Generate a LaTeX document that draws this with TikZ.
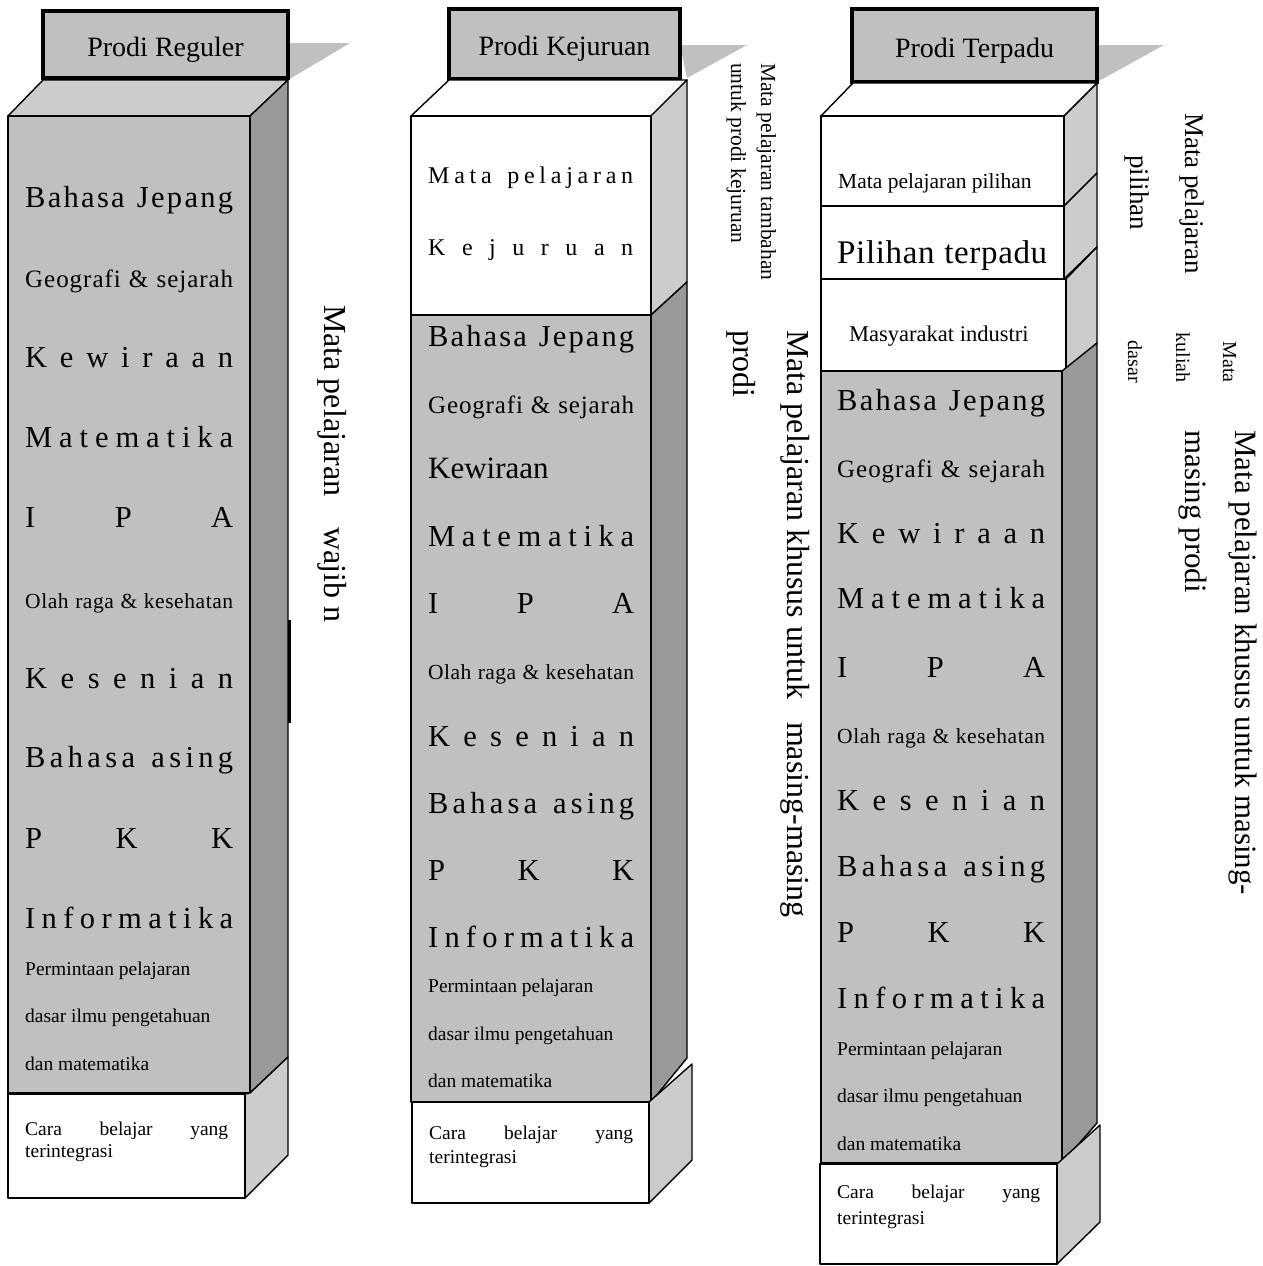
\documentclass[tikz,border=0pt]{standalone}
\usepackage{fontspec}
\setmainfont{Liberation Serif}
\usepackage{tikz}

\definecolor{frontgray}{HTML}{C0C0C0}
\definecolor{sidegray}{HTML}{999999}
\definecolor{lightside}{HTML}{CCCCCC}

\newcommand\fsz[1]{\fontsize{#1}{#1}\selectfont}
% letters spread evenly over a given width
\ExplSyntaxOn
\NewDocumentCommand\distrib{mm}{\hbox~to~#1{\str_map_inline:nn{#2}{##1\hfil}\unskip}}
\ExplSyntaxOff

\begin{document}
\begin{tikzpicture}[x=1pt,y=-1pt,
		face/.style={draw, line width=1.4pt, line join=round},
		titlebox/.style={draw, line width=3.2pt, fill=frontgray, inner sep=0pt, font=\fsz{28}, text height=31pt, text depth=8pt},
		lbl/.style={anchor=base west, inner sep=0pt},
		vlbl/.style={rotate=-90, anchor=base west, inner sep=0pt}]
	\useasboundingbox (0,0) rectangle (1263,1266);

	%%% Prodi Reguler
	\fill[frontgray] (288,43) -- (350,43) -- (288,80) -- cycle;
	\node[titlebox, minimum width=245, minimum height=67] (reg) at (165.5,44.5) {Prodi Reguler};
	\filldraw[face, fill=lightside] (8,116) -- (43,80) -- (288,80) -- (250,116) -- cycle;
	\filldraw[face, fill=sidegray] (250,116) -- (288,80) -- (288,1057) -- (250,1093) -- cycle;
	\filldraw[face, fill=frontgray] (8,116) rectangle (250,1093);
	\filldraw[face, fill=lightside] (245,1094) -- (250,1093) -- (288,1057) -- (288,1155) -- (245,1198) -- cycle;
	\filldraw[face, fill=white] (8,1094) rectangle (245,1198);
	\draw[line width=3pt] (289.5,620) -- (289.5,723);

	\node[lbl] (r1) at (25,207) {\fsz{30.5}\distrib{208pt}{Bahasa Jepang}};
	\node[lbl] (r2) at (25,287) {\fsz{25}\distrib{208pt}{Geografi & sejarah}};
	\node[lbl] (r3) at (25,367) {\fsz{30.5}\distrib{208pt}{Kewiraan}};
	\node[lbl] (r4) at (25,447) {\fsz{30.5}\distrib{208pt}{Matematika}};
	\node[lbl] (r5) at (25,527) {\fsz{30.5}\distrib{208pt}{IPA}};
	\node[lbl] (r6) at (25,608) {\fsz{21.5}\distrib{208pt}{Olah raga & kesehatan}};
	\node[lbl] (r7) at (25,688) {\fsz{30.5}\distrib{208pt}{Kesenian}};
	\node[lbl] (r8) at (25,767) {\fsz{30.5}\distrib{208pt}{Bahasa asing}};
	\node[lbl] (r9) at (25,848) {\fsz{30.5}\distrib{208pt}{PKK}};
	\node[lbl] (r10) at (25,928) {\fsz{30.5}\distrib{208pt}{Informatika}};
	\node[lbl] (r11) at (25,975) {\fsz{19.5}Permintaan pelajaran};
	\node[lbl] (r12) at (25,1022) {\fsz{19.5}dasar ilmu pengetahuan};
	\node[lbl] (r13) at (25,1070) {\fsz{19.5}dan matematika};
	\node[lbl] (r14) at (25,1135) {\fsz{19.5}\hbox to 203pt{Cara\hfil belajar\hfil yang}};
	\node[lbl] (r15) at (25,1157) {\fsz{19.5}terintegrasi};

	\node[vlbl] (wajib) at (324,305) {\fsz{32}Mata pelajaran\hspace{31pt}wajib n};

	%%% Prodi Kejuruan
	\fill[frontgray] (680,45) -- (747,45) -- (687,78) -- cycle;
	\node[titlebox, minimum width=231, minimum height=70] (kej) at (564.5,44) {Prodi Kejuruan};
	\filldraw[face, fill=white] (411,116) -- (449,80) -- (687,80) -- (651,116) -- cycle;
	\filldraw[face, fill=lightside] (651,116) -- (687,80) -- (687,282) -- (651,315) -- cycle;
	\filldraw[face, fill=white] (411,116) rectangle (651,315);
	\filldraw[face, fill=sidegray] (651,315) -- (687,282) -- (687,1058) -- (651,1102) -- cycle;
	\filldraw[face, fill=frontgray] (411,315) rectangle (651,1102);
	\filldraw[face, fill=lightside] (649,1102) -- (692,1064) -- (692,1160) -- (649,1203) -- cycle;
	\filldraw[face, fill=white] (412,1102) rectangle (649,1203);

	\node[lbl] (k1) at (428,183) {\fsz{24}\distrib{205pt}{Mata pelajaran}};
	\node[lbl] (k2) at (428,255) {\fsz{24}\distrib{205pt}{Kejuruan}};
	\node[lbl] (k3) at (428,346) {\fsz{30.5}\distrib{206pt}{Bahasa Jepang}};
	\node[lbl] (k4) at (428,413) {\fsz{25}\distrib{206pt}{Geografi & sejarah}};
	\node[lbl] (k5) at (428,478) {\fsz{31}Kewiraan};
	\node[lbl] (k6) at (428,546) {\fsz{30.5}\distrib{206pt}{Matematika}};
	\node[lbl] (k7) at (428,613) {\fsz{30.5}\distrib{206pt}{IPA}};
	\node[lbl] (k8) at (428,679) {\fsz{21.5}\distrib{206pt}{Olah raga & kesehatan}};
	\node[lbl] (k9) at (428,746) {\fsz{30.5}\distrib{206pt}{Kesenian}};
	\node[lbl] (k10) at (428,813) {\fsz{30.5}\distrib{206pt}{Bahasa asing}};
	\node[lbl] (k11) at (428,880) {\fsz{30.5}\distrib{206pt}{PKK}};
	\node[lbl] (k12) at (428,947) {\fsz{30.5}\distrib{206pt}{Informatika}};
	\node[lbl] (k13) at (428,992) {\fsz{19.5}Permintaan pelajaran};
	\node[lbl] (k14) at (428,1040) {\fsz{19.5}dasar ilmu pengetahuan};
	\node[lbl] (k15) at (428,1087) {\fsz{19.5}dan matematika};
	\node[lbl] (k16) at (429,1139) {\fsz{19.5}\hbox to 204pt{Cara\hfil belajar\hfil yang}};
	\node[lbl] (k17) at (429,1163) {\fsz{19.5}terintegrasi};

	\node[vlbl] (tamb1) at (761,63) {\fsz{21.5}Mata pelajaran tambahan};
	\node[vlbl] (tamb2) at (731,63) {\fsz{21.5}untuk prodi kejuruan};
	\node[vlbl] (khus1) at (787,330) {\fsz{32}Mata pelajaran khusus untuk\hspace{23pt}masing-masing};
	\node[vlbl] (khus2) at (733,330) {\fsz{32}prodi};

	%%% Prodi Terpadu
	\fill[frontgray] (1097,45) -- (1164,45) -- (1097,82) -- cycle;
	\node[titlebox, minimum width=245, minimum height=73] (ter) at (974.5,45.5) {Prodi Terpadu};
	\filldraw[face, fill=white] (821,116) -- (853,83) -- (1097,83) -- (1064,116) -- cycle;
	\filldraw[face, fill=lightside] (1064,116) -- (1097,83) -- (1097,173) -- (1064,206) -- cycle;
	\filldraw[face, fill=white] (821,116) rectangle (1064,206);
	\filldraw[face, fill=lightside] (1064,206) -- (1097,173) -- (1097,247) -- (1064,279) -- cycle;
	\filldraw[face, fill=white] (821,206) rectangle (1064,279);
	\filldraw[face, fill=lightside] (1066,279) -- (1097,247) -- (1097,343) -- (1066,371) -- cycle;
	\filldraw[face, fill=white] (821,279) rectangle (1066,371);
	\filldraw[face, fill=sidegray] (1062,371) -- (1097,343) -- (1097,1123) -- (1062,1163) -- cycle;
	\filldraw[face, fill=frontgray] (821,371) rectangle (1062,1163);
	\filldraw[face, fill=lightside] (1057,1164) -- (1100,1125) -- (1100,1222) -- (1057,1264) -- cycle;
	\filldraw[face, fill=white] (820,1164) rectangle (1057,1264);

	\node[lbl] (p1) at (838,188) {\fsz{21.5}Mata pelajaran pilihan};
	\node[lbl] (p2) at (837,263) {\fsz{33}\distrib{210pt}{Pilihan terpadu}};
	\node[lbl] (p3) at (849,341) {\fsz{22.5}Masyarakat industri};
	\node[lbl] (p4) at (837,410) {\fsz{30.5}\distrib{208pt}{Bahasa Jepang}};
	\node[lbl] (p5) at (837,477) {\fsz{25}\distrib{208pt}{Geografi & sejarah}};
	\node[lbl] (p6) at (837,543) {\fsz{30.5}\distrib{208pt}{Kewiraan}};
	\node[lbl] (p7) at (837,608) {\fsz{30.5}\distrib{208pt}{Matematika}};
	\node[lbl] (p8) at (837,677) {\fsz{30.5}\distrib{208pt}{IPA}};
	\node[lbl] (p9) at (837,743) {\fsz{21.5}\distrib{208pt}{Olah raga & kesehatan}};
	\node[lbl] (p10) at (837,810) {\fsz{30.5}\distrib{208pt}{Kesenian}};
	\node[lbl] (p11) at (837,876) {\fsz{30.5}\distrib{208pt}{Bahasa asing}};
	\node[lbl] (p12) at (837,942) {\fsz{30.5}\distrib{208pt}{PKK}};
	\node[lbl] (p13) at (837,1008) {\fsz{30.5}\distrib{208pt}{Informatika}};
	\node[lbl] (p14) at (837,1055) {\fsz{19.5}Permintaan pelajaran};
	\node[lbl] (p15) at (837,1102) {\fsz{19.5}dasar ilmu pengetahuan};
	\node[lbl] (p16) at (837,1150) {\fsz{19.5}dan matematika};
	\node[lbl] (p17) at (837,1198) {\fsz{19.5}\hbox to 203pt{Cara\hfil belajar\hfil yang}};
	\node[lbl] (p18) at (837,1224) {\fsz{19.5}terintegrasi};

	\node[vlbl] (pil1) at (1185,113) {\fsz{27}Mata pelajaran};
	\node[vlbl] (pil2) at (1130,155) {\fsz{27}pilihan};
	\node[vlbl, anchor=base east] (mk1) at (1223,383) {\fsz{20}Mata};
	\node[vlbl, anchor=base east] (mk2) at (1176,383) {\fsz{20}kuliah};
	\node[vlbl, anchor=base east] (mk3) at (1128,383) {\fsz{20}dasar};
	\node[vlbl] (mp1) at (1235,430) {\fsz{31}Mata pelajaran khusus untuk masing-};
	\node[vlbl] (mp2) at (1185,430) {\fsz{31}masing prodi};
\end{tikzpicture}
\end{document}
